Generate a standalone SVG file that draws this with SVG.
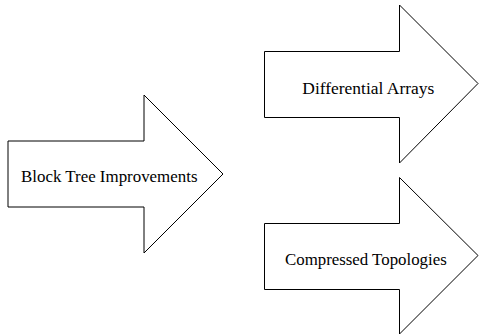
<svg xmlns="http://www.w3.org/2000/svg" width="479" height="336" viewBox="0 0 479 336">
<style>
.arrow{fill:#fff;stroke:#000;stroke-width:1;stroke-linejoin:miter}
.lbl{font-family:"Liberation Serif","DejaVu Serif",serif;font-size:16.5px;fill:#000}
</style>
<rect width="479" height="336" fill="#fff"/>
<g id="block-tree">
<polygon class="arrow" points="8,141 144,141 144,95 223,174 144,253 144,207 8,207"/>
<text class="lbl" x="21" y="181.7" textLength="176.5" lengthAdjust="spacingAndGlyphs">Block Tree Improvements</text>
</g>
<g id="differential-arrays">
<polygon class="arrow" points="264.5,51.5 399.5,51.5 399.5,5 478,83.5 399.5,163 399.5,117.5 264.5,117.5"/>
<text class="lbl" x="302.3" y="93.5" textLength="132" lengthAdjust="spacingAndGlyphs">Differential Arrays</text>
</g>
<g id="compressed-topologies">
<polygon class="arrow" points="264.5,223.5 399.5,223.5 399.5,177.5 478,255.5 399.5,334 399.5,289.5 264.5,289.5"/>
<text class="lbl" x="285" y="264.7" textLength="161.7" lengthAdjust="spacingAndGlyphs">Compressed Topologies</text>
</g>
<g id="connectors"></g>
</svg>
